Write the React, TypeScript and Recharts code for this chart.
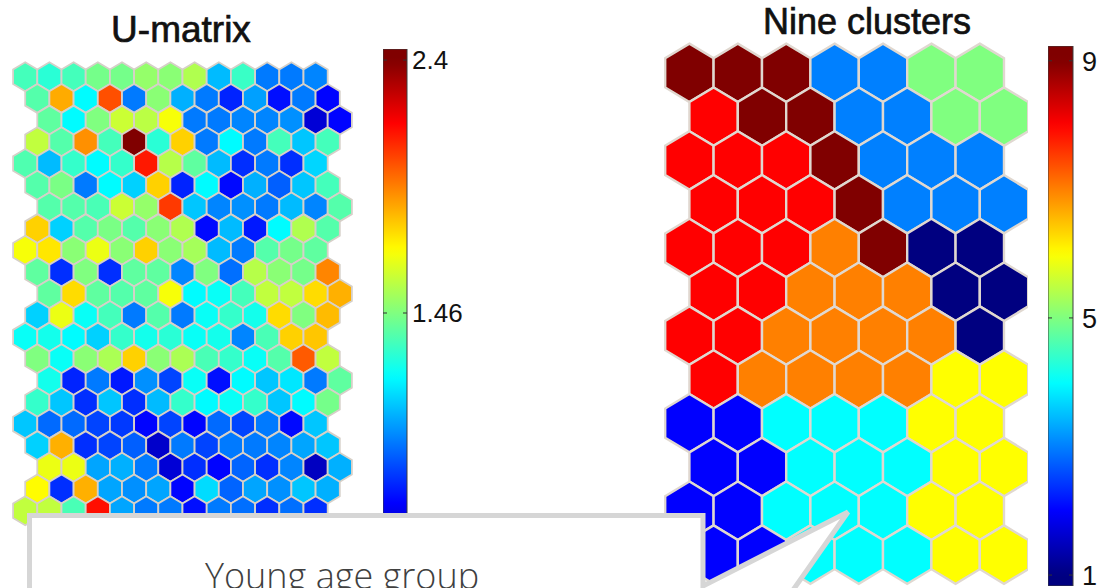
import { ScatterChart, Scatter, XAxis, YAxis, BarChart, Bar } from 'recharts';

// U-matrix values, one row per line (13 cells, hexaU layout)
const UMAT_ROWS: number[][] = [
  [1.35, 1.30, 1.35, 1.44, 1.44, 1.50, 1.48, 1.55, 1.10, 1.33, 0.98, 0.98, 1.00],
  [1.38, 1.85, 1.22, 2.02, 0.98, 1.48, 1.08, 0.98, 0.82, 1.05, 0.78, 0.98, 0.76],
  [1.40, 1.22, 1.46, 1.60, 1.57, 1.68, 0.98, 0.98, 1.00, 1.00, 1.02, 0.68, 0.76],
  [1.58, 1.38, 1.90, 1.35, 2.40, 1.30, 1.78, 0.98, 1.22, 0.98, 1.35, 1.12, 1.35],
  [1.37, 1.10, 1.32, 1.22, 1.32, 2.12, 1.56, 1.40, 1.10, 0.84, 0.98, 0.84, 1.15],
  [1.38, 1.45, 0.98, 1.22, 1.14, 1.78, 0.82, 1.22, 0.77, 1.08, 0.93, 1.12, 1.35],
  [1.38, 1.38, 1.36, 1.60, 1.50, 2.06, 1.12, 1.00, 1.02, 0.98, 1.10, 1.00, 1.38],
  [1.78, 1.14, 1.38, 1.45, 1.38, 1.48, 1.55, 0.77, 1.10, 0.80, 1.22, 1.55, 1.38],
  [1.68, 1.74, 1.48, 1.66, 1.48, 1.78, 1.48, 1.53, 1.10, 0.98, 1.38, 1.44, 1.40],
  [1.40, 0.84, 1.46, 0.84, 1.40, 1.40, 1.00, 1.46, 0.96, 1.56, 1.48, 1.44, 1.92],
  [1.40, 1.76, 1.40, 1.38, 1.40, 1.68, 1.22, 1.24, 1.35, 1.58, 1.58, 1.76, 1.84],
  [1.14, 1.66, 1.24, 1.35, 0.98, 1.38, 0.98, 1.24, 1.32, 1.26, 1.76, 1.46, 1.82],
  [1.24, 1.26, 1.22, 1.14, 1.32, 1.26, 1.30, 1.24, 1.26, 1.00, 1.36, 1.78, 1.80],
  [1.46, 1.24, 1.48, 1.54, 1.78, 1.48, 1.54, 1.36, 1.32, 1.24, 1.38, 2.00, 1.58],
  [1.26, 0.82, 0.98, 0.80, 1.02, 0.88, 1.24, 0.78, 1.22, 1.12, 1.18, 0.98, 1.40],
  [1.32, 1.12, 0.84, 1.12, 0.84, 1.10, 1.32, 1.22, 1.24, 1.32, 1.12, 1.22, 1.44],
  [1.12, 0.95, 0.95, 0.88, 0.86, 0.76, 0.88, 0.76, 0.95, 0.88, 0.98, 0.77, 1.12],
  [1.14, 1.84, 0.84, 0.88, 0.93, 0.66, 0.98, 0.88, 0.98, 0.98, 1.00, 1.06, 1.12],
  [1.66, 1.66, 1.06, 1.08, 0.98, 0.68, 0.84, 0.76, 0.94, 0.84, 1.00, 0.64, 1.08],
  [1.70, 0.84, 1.84, 1.06, 1.02, 1.06, 0.76, 1.16, 0.94, 1.06, 1.02, 1.12, 1.08],
  [1.58, 1.58, 1.36, 2.14, 1.06, 0.98, 0.98, 0.78, 0.98, 0.96, 0.84, 0.96, 0.84],
];

// cluster id of every map unit (12 rows x 7 cols)
const CLUSTER_ROWS: number[][] = [
  [9, 9, 9, 3, 3, 5, 5],
  [8, 9, 9, 3, 3, 5, 5],
  [8, 8, 8, 9, 3, 3, 3],
  [8, 8, 8, 9, 3, 3, 3],
  [8, 8, 8, 7, 9, 1, 1],
  [8, 8, 7, 7, 7, 1, 1],
  [8, 8, 7, 7, 7, 7, 1],
  [8, 7, 7, 7, 7, 6, 6],
  [2, 2, 4, 4, 4, 6, 6],
  [2, 2, 4, 4, 4, 6, 6],
  [2, 2, 4, 4, 4, 6, 6],
  [2, 2, 4, 4, 4, 6, 6],
];

const UMAT_RANGE = [0.52, 2.4];
const UMAT_TICKS = [1.46, 2.4]; // the bottom label sits behind the callout
const UMAT_BAR_DOMAIN = [0.479, 2.441];
const CLUSTER_RANGE = [1, 9];
const CLUSTER_TICKS = [1, 5, 9];
const CLUSTER_BAR_DOMAIN = [0.83, 9.23];
const TITLES = ['U-matrix', 'Nine clusters'];
const CALLOUT_TEXT = 'Young age group';

const FONT = '"Liberation Sans", Arial, Helvetica, sans-serif';
const PAD = 18; // room above/below colorbars for labels

// matlab jet
function jet(t: number) {
  const c = Math.max(0, Math.min(1, t));
  const ch = (x: number) => Math.round(255 * Math.max(0, Math.min(1, 1.5 - Math.abs(4 * c - x))));
  return `rgb(${ch(3)},${ch(2)},${ch(1)})`;
}

const scaleColor = (range: number[]) => (v: number) => jet((v - range[0]) / (range[1] - range[0]));
const umatColor = scaleColor(UMAT_RANGE);
const clusterColor = scaleColor(CLUSTER_RANGE);

const uOffset = (r: number) => [0, 0.5, 1, 0.5][r % 4];
const umatPoints = UMAT_ROWS.flatMap((row, r) => row.map((v, c) => ({ x: c + uOffset(r), y: r, v })));
const clusterPoints = CLUSTER_ROWS.flatMap((row, r) => row.map((v, c) => ({ x: c + (r % 2) * 0.5, y: r, v })));

function makeHex(hw: number, hh: number, color: (v: number) => string, sw: number, stroke: string) {
  return (props: any) => {
    const { cx, cy, payload } = props;
    const pts = [
      [0, -hh], [hw, -hh / 2], [hw, hh / 2], [0, hh], [-hw, hh / 2], [-hw, -hh / 2],
    ].map(([dx, dy]) => `${cx + dx},${cy + dy}`).join(' ');
    return <polygon points={pts} fill={color(payload.v)} stroke={stroke} strokeWidth={sw} />;
  };
}

function HexMap({ data, xDomain, yDomain, width, height, hw, hh, color, sw, stroke }: any) {
  return (
    <ScatterChart width={width} height={height} margin={{ top: 0, right: 0, bottom: 0, left: 0 }}>
      <XAxis type="number" dataKey="x" domain={xDomain} allowDataOverflow hide />
      <YAxis type="number" dataKey="y" domain={yDomain} allowDataOverflow reversed hide />
      <Scatter data={data} shape={makeHex(hw, hh, color, sw, stroke)} isAnimationActive={false} />
    </ScatterChart>
  );
}

function ColorBar({ id, domain, range, ticks, height, barW, labelDx, fontSize }: any) {
  const color = scaleColor(range);
  const stops = Array.from({ length: 65 }, (_, i) => {
    const v = domain[1] - (i / 64) * (domain[1] - domain[0]);
    return <stop key={i} offset={`${(i / 64) * 100}%`} stopColor={color(v)} />;
  });
  const Tick = (p: any) => {
    const { x, y, payload } = p;
    return (
      <g>
        <line x1={x - barW} x2={x - barW + 4} y1={y} y2={y} stroke="#333" strokeWidth={1} />
        <line x1={x - 4} x2={x} y1={y} y2={y} stroke="#333" strokeWidth={1} />
        <text x={x + labelDx} y={y} dy="0.36em" fontSize={fontSize} fontFamily={FONT} fill="#111">
          {payload.value}
        </text>
      </g>
    );
  };
  return (
    <BarChart
      width={barW + 70}
      height={height + 2 * PAD}
      data={[{ name: id, range: domain }]}
      margin={{ top: PAD, right: 0, bottom: PAD, left: 0 }}
      barCategoryGap={0}
    >
      <defs>
        <linearGradient id={id} x1="0" y1="0" x2="0" y2="1">
          {stops}
        </linearGradient>
      </defs>
      <XAxis dataKey="name" hide />
      <YAxis
        orientation="right"
        type="number"
        domain={domain}
        ticks={ticks}
        interval={0}
        width={70}
        axisLine={false}
        tickLine={false}
        tickSize={0}
        tickMargin={0}
        allowDataOverflow
        tick={<Tick />}
      />
      <Bar dataKey="range" fill={`url(#${id})`} stroke="#3c3c3c" strokeWidth={1} isAnimationActive={false} />
    </BarChart>
  );
}

const abs = (left: number, top: number, extra: any = {}) => ({ position: 'absolute' as const, left, top, ...extra });

const titleStyle = {
  textAlign: 'center' as const,
  fontFamily: FONT,
  fontSize: 36,
  lineHeight: '40px',
  color: '#111',
  WebkitTextStroke: '0.7px #111',
};

export default function App() {
  return (
    <div style={{ position: 'fixed', left: 0, top: 0, width: 1107, height: 588, overflow: 'hidden', background: '#fff' }}>
      <div style={abs(0, 10, { ...titleStyle, width: 362, fontSize: 37 })}>{TITLES[0]}</div>
      <div style={abs(660, 2, { ...titleStyle, width: 414 })}>{TITLES[1]}</div>

      <div style={abs(0.8, 55.3)}>
        <HexMap data={umatPoints} xDomain={[-1, 14.5]} yDomain={[-1, 22]} width={375.1} height={499.1}
          hw={12.1} hh={14.47} color={umatColor} sw={1.8} stroke="#d6d0c8" />
      </div>
      <div style={abs(641.1, 29.2)}>
        <HexMap data={clusterPoints} xDomain={[-1, 7]} yDomain={[-1, 12]} width={387.2} height={569.4}
          hw={24.2} hh={29.2} color={clusterColor} sw={2.4} stroke="#e0d8d0" />
      </div>

      <div style={abs(383, 49 - PAD)}>
        <ColorBar id="jetU" domain={UMAT_BAR_DOMAIN} range={UMAT_RANGE} ticks={UMAT_TICKS} height={528} barW={24} labelDx={5} fontSize={26} />
      </div>
      <div style={abs(1048, 46 - PAD)}>
        <ColorBar id="jetC" domain={CLUSTER_BAR_DOMAIN} range={CLUSTER_RANGE} ticks={CLUSTER_TICKS} height={540} barW={25} labelDx={9} fontSize={27} />
      </div>

      <svg width={1107} height={588} style={abs(0, 0, { pointerEvents: 'none' })}>
        <path d="M 29.5 515.5 L 703 515.5 L 703 586 L 848 512 L 786 600 L 29.5 600 Z"
          fill="#fff" stroke="#d6d6d6" strokeWidth={5} strokeLinejoin="miter" />
        <text x={205} y={589} fontSize={36} fontFamily='"Open Sans", sans-serif' fontWeight={300} fill="#404040">
          {CALLOUT_TEXT}
        </text>
      </svg>
    </div>
  );
}
